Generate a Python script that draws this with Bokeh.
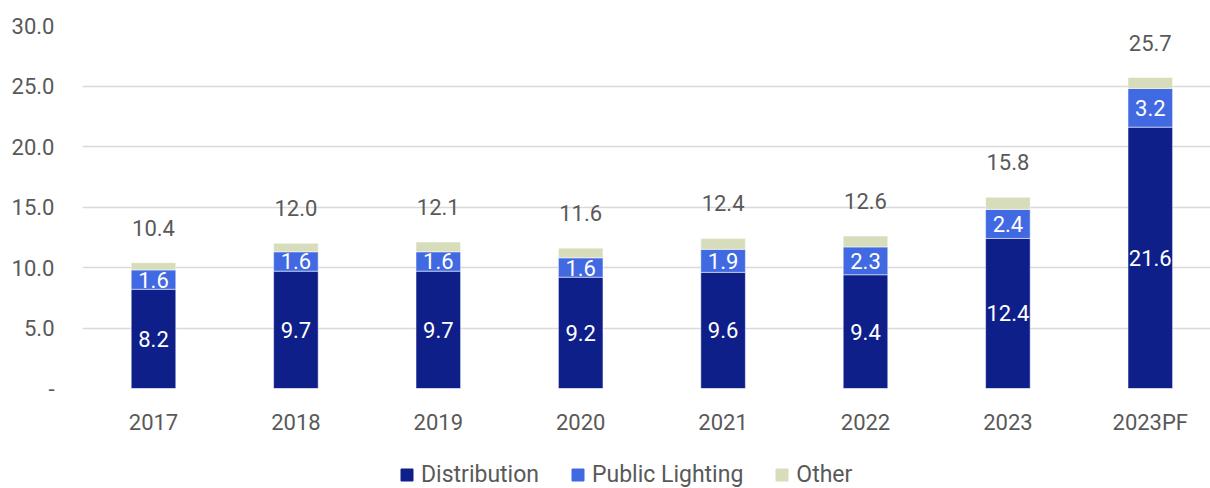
import numpy as np
from bokeh.plotting import figure
from bokeh.layouts import column
from bokeh.models import (ColumnDataSource, Range1d, FixedTicker, LabelSet,
                          Legend, LegendItem)
from bokeh.embed import file_html
from bokeh.resources import INLINE
from bokeh.core.properties import value

years = ["2017", "2018", "2019", "2020", "2021", "2022", "2023", "2023PF"]
distribution = [8.2, 9.7, 9.7, 9.2, 9.6, 9.4, 12.4, 21.6]
public_lighting = [1.6, 1.6, 1.6, 1.6, 1.9, 2.3, 2.4, 3.2]
other = [0.6, 0.7, 0.8, 0.8, 0.9, 0.9, 1.0, 0.9]
totals = [10.4, 12.0, 12.1, 11.6, 12.4, 12.6, 15.8, 25.7]
y_ticks = [0, 5, 10, 15, 20, 25, 30]
y_tick_labels = ["-", "5.0", "10.0", "15.0", "20.0", "25.0", "30.0"]
series_names = ["Distribution", "Public Lighting", "Other"]
colors = ["#0E1F8A", "#4169E1", "#D7DDBB"]

FONT = "Roboto"
TEXT = "#595959"
FS = "22px"

xs = list(range(len(years)))
src = ColumnDataSource(dict(
    x=xs,
    dist=distribution,
    pl=public_lighting,
    other=other,
    total=totals,
    dist_mid=[d / 2 for d in distribution],
    pl_mid=[d + p / 2 for d, p in zip(distribution, public_lighting)],
    stack_top=[d + p + o for d, p, o in zip(distribution, public_lighting, other)],
    dist_txt=[f"{v:.1f}" for v in distribution],
    pl_txt=[f"{v:.1f}" for v in public_lighting],
    total_txt=[f"{v:.1f}" for v in totals],
))

p = figure(width=1210, height=440, output_backend="svg", toolbar_location=None,
           x_range=Range1d(-0.4986, 7.4228), y_range=Range1d(0, 30),
           min_border_left=82, min_border_right=0, min_border_top=25,
           min_border_bottom=52)
p.outline_line_color = None
p.background_fill_color = "white"
p.border_fill_color = "white"

rs = p.vbar_stack(["dist", "pl", "other"], x="x", width=0.313, color=colors,
                  line_color="white", line_width=1, line_alpha=0.5, source=src)

p.add_layout(LabelSet(x="x", y="dist_mid", text="dist_txt", source=src,
                      text_align="center", text_baseline="middle",
                      text_color="white", text_font=value(FONT),
                      text_font_size=value(FS)))
p.add_layout(LabelSet(x="x", y="pl_mid", text="pl_txt", source=src,
                      text_align="center", text_baseline="middle",
                      text_color="white", text_font=value(FONT),
                      text_font_size=value(FS)))
p.add_layout(LabelSet(x="x", y="stack_top", text="total_txt", source=src,
                      y_offset=35, text_align="center", text_baseline="middle",
                      text_color=TEXT, text_font=value(FONT),
                      text_font_size=value(FS)))

# axes
p.xaxis.ticker = FixedTicker(ticks=xs)
p.xaxis.major_label_overrides = {i: y for i, y in zip(xs, years)}
p.yaxis.ticker = FixedTicker(ticks=y_ticks)
p.yaxis.major_label_overrides = {t: l for t, l in zip(y_ticks, y_tick_labels)}
for ax in (p.xaxis, p.yaxis):
    ax.axis_line_color = None
    ax.major_tick_line_color = None
    ax.minor_tick_line_color = None
    ax.major_label_text_font = FONT
    ax.major_label_text_font_size = FS
    ax.major_label_text_color = TEXT
p.yaxis.major_label_standoff = 22
p.xaxis.major_label_standoff = 15

p.xgrid.grid_line_color = None
p.ygrid.grid_line_color = "#D9D9D9"
p.ygrid.grid_line_width = 1.5

# legend strip below the chart (its frame is aligned with the chart's frame)
lg = figure(width=1210, height=48, output_backend="svg", toolbar_location=None,
            x_range=Range1d(0, 1), y_range=Range1d(0, 1),
            x_axis_location=None, y_axis_location=None,
            min_border_left=0, min_border_right=0, min_border_top=0,
            min_border_bottom=0)
lg.outline_line_color = None
lg.xgrid.grid_line_color = None
lg.ygrid.grid_line_color = None
lg.background_fill_color = "white"
lg.border_fill_color = "white"
# legend keys only: undrawable (NaN) bars that just carry the series colours
keys = [lg.vbar(x=[0.5], top=[np.nan], width=0.1, color=c) for c in colors]
legend = Legend(items=[LegendItem(label=n, renderers=[r]) for n, r in zip(series_names, keys)],
                orientation="horizontal", location=(317, 0),
                glyph_width=15, glyph_height=15, label_standoff=7, spacing=31,
                padding=0, margin=0, border_line_color=None,
                label_text_font=FONT, label_text_font_size="23px",
                label_text_color=TEXT, background_fill_alpha=0)
lg.add_layout(legend, "center")

layout = column(p, lg, spacing=0)
open("out.html", "w").write(file_html(layout, INLINE))
